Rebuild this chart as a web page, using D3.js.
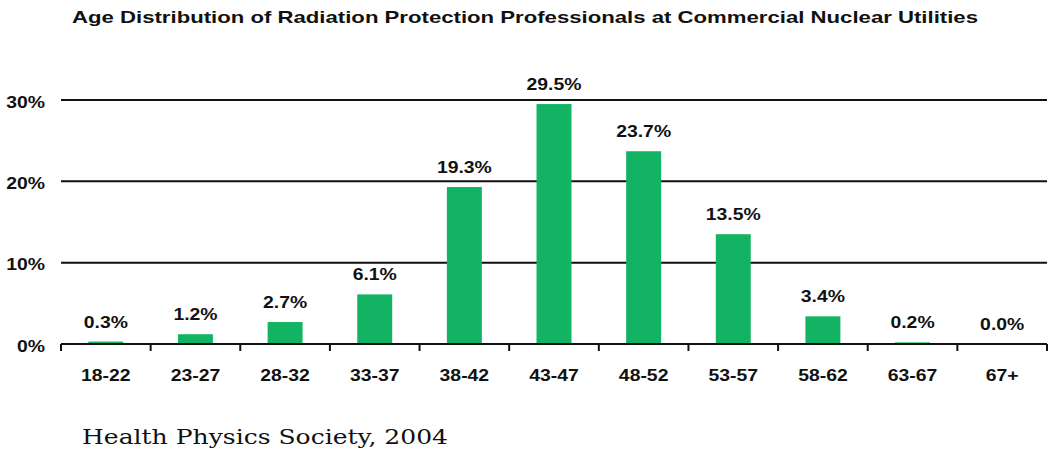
<!DOCTYPE html>
<html>
<head>
<meta charset="utf-8">
<script src="https://cdn.jsdelivr.net/npm/d3@7/dist/d3.min.js"></script>
<style>
  html, body { margin: 0; padding: 0; background: #fff; }
  svg { display: block; }
  .lbl { font-family: Arial, "Liberation Sans", sans-serif; font-weight: bold; font-size: 17px; fill: #111; }
</style>
</head>
<body>
<svg id="chart" width="1051" height="450"></svg>
<script>
// Age bands and share of professionals in each (percent)
const ageGroups = ["18-22", "23-27", "28-32", "33-37", "38-42", "43-47", "48-52", "53-57", "58-62", "63-67", "67+"];
const shares = [0.3, 1.2, 2.7, 6.1, 19.3, 29.5, 23.7, 13.5, 3.4, 0.2, 0.0];
const yTicks = [0, 10, 20, 30];

const svg = d3.select("#chart");
const plotLeft = 61, plotRight = 1047, plotTop = 100, plotBottom = 344;
const stretch = 1.14; // labels are set slightly wide

const x = d3.scaleBand().domain(ageGroups).range([plotLeft, plotRight]).paddingInner(0.61).paddingOuter(0.305);
const y = d3.scaleLinear().domain([0, 30]).range([plotBottom, plotTop]);

const place = (px, py) => `translate(${px},${py}) scale(${stretch},1)`;

// Title
svg.append("text").attr("class", "lbl")
  .attr("x", 72).attr("y", 23)
  .attr("textLength", 906)
  .attr("lengthAdjust", "spacingAndGlyphs")
  .text("Age Distribution of Radiation Protection Professionals at Commercial Nuclear Utilities");

// Horizontal gridlines (above zero)
svg.append("g").selectAll("line").data(yTicks.filter(d => d > 0)).join("line")
  .attr("x1", plotLeft).attr("x2", plotRight)
  .attr("y1", d => y(d)).attr("y2", d => y(d))
  .attr("stroke", "#111").attr("stroke-width", 2);

// Y axis labels
svg.append("g").selectAll("text").data(yTicks).join("text")
  .attr("class", "lbl")
  .attr("transform", d => place(45, y(d) + 7.5))
  .attr("text-anchor", "end")
  .text(d => d + "%");

// Bars
svg.append("g").selectAll("rect").data(shares).join("rect")
  .attr("x", (d, i) => x(ageGroups[i]))
  .attr("width", x.bandwidth())
  .attr("y", d => y(d))
  .attr("height", d => plotBottom - y(d))
  .attr("fill", "#12b463");

// Value labels
svg.append("g").selectAll("text").data(shares).join("text")
  .attr("class", "lbl")
  .attr("transform", (d, i) => place(x(ageGroups[i]) + x.bandwidth() / 2, y(d) - 14))
  .attr("text-anchor", "middle")
  .text(d => d.toFixed(1) + "%");

// X axis baseline with downward ticks at band boundaries
const bounds = d3.range(ageGroups.length + 1).map(i => plotLeft + i * (plotRight - plotLeft) / ageGroups.length);
svg.append("line")
  .attr("x1", plotLeft).attr("x2", plotRight)
  .attr("y1", plotBottom).attr("y2", plotBottom)
  .attr("stroke", "#111").attr("stroke-width", 2);
svg.append("g").selectAll("line").data(bounds).join("line")
  .attr("x1", d => d).attr("x2", d => d)
  .attr("y1", plotBottom).attr("y2", plotBottom + 7)
  .attr("stroke", "#111").attr("stroke-width", 2);

// Category labels
svg.append("g").selectAll("text").data(ageGroups).join("text")
  .attr("class", "lbl")
  .attr("transform", d => place(x(d) + x.bandwidth() / 2, 381))
  .attr("text-anchor", "middle")
  .text(d => d);

// Source note
svg.append("text")
  .attr("x", 82).attr("y", 444)
  .attr("font-family", "'DejaVu Serif', serif")
  .attr("font-size", 21)
  .attr("fill", "#111")
  .attr("textLength", 366)
  .attr("lengthAdjust", "spacingAndGlyphs")
  .text("Health Physics Society, 2004");
</script>
</body>
</html>
